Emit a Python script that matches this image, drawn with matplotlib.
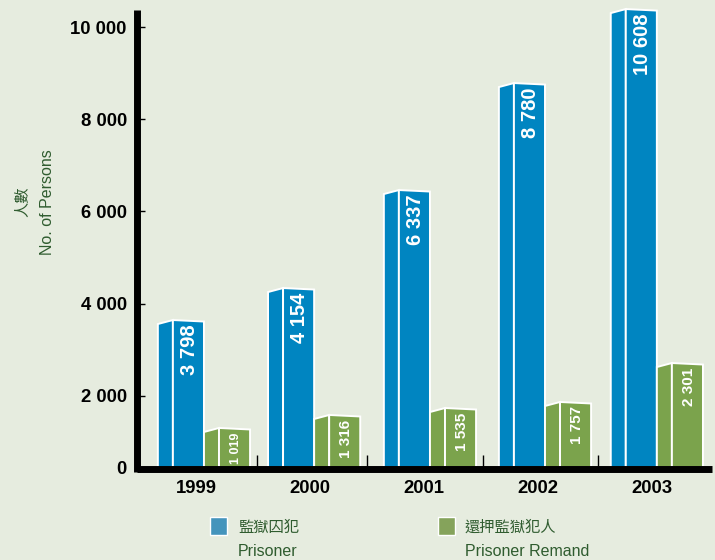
import numpy as np
import matplotlib
matplotlib.use('Agg')
import matplotlib.pyplot as plt

years = ['1999', '2000', '2001', '2002', '2003']
# printed values
prisoner_labels = ['3 798', '4 154', '6 337', '8 780', '10 608']
remand_labels = ['1 019', '1 316', '1 535', '1 757', '2 301']
# heights as read against the y axis of the picture (the drawing is not to scale)
prisoner_heights = [3644, 4338, 6464, 8785, 10390]
remand_heights = [1302, 1584, 1735, 1866, 2711]
yticks = [434, 2000, 4000, 6000, 8000, 10000]
yticklabels = ['0', '2 000', '4 000', '6 000', '8 000', '10 000']

BG = '#E6ECDF'
BLUE = '#0085C1'
GREEN = '#7BA34C'
TEXT_GREEN = '#2F5C2F'
LATIN = ['Liberation Sans', 'Noto Sans CJK TC']
CJK = ['Noto Sans CJK TC', 'Liberation Sans']

W, H = 715, 560
fig = plt.figure(figsize=(W/100, H/100), dpi=100, facecolor=BG)
ax = fig.add_axes([136.5/W, 1-468.5/H, (712-136.5)/W, (468.5-10)/H], facecolor=BG)

ymin, ymax = 423, 10370
ax.set_ylim(ymin, ymax)
ax.set_xlim(-0.597, 4.496)

group_x = np.arange(5) + np.array([0, -0.025, 0, 0.018, 0.008])
year_x = np.arange(5)*1.008 - 0.07
side_w = 0.133
front_w = 0.275
rise = 4/0.0461     # slant of the bar tops
drop = 1.5/0.0461


def draw_bar(x, h, color, label, size):
    # x is the left edge of the front face
    ax.fill([x-side_w, x-side_w, x, x], [ymin, h-rise, h, ymin],
            facecolor=color, edgecolor='white', lw=1.4, clip_on=False)
    ax.fill([x, x, x+front_w, x+front_w], [ymin, h, h-drop, ymin],
            facecolor=color, edgecolor='white', lw=1.4, clip_on=False)
    ax.text(x+front_w/2+0.012, h-4.5/0.0461, label, rotation=90, ha='center', va='top',
            color='white', fontweight='bold', fontsize=size, family=LATIN)


for i in range(5):
    draw_bar(group_x[i]-front_w, prisoner_heights[i], BLUE, prisoner_labels[i], 14.5)
    draw_bar(group_x[i]+side_w, remand_heights[i], GREEN, remand_labels[i],
             9 if i == 0 else 11)

for s in ['top', 'right']:
    ax.spines[s].set_visible(False)
ax.spines['left'].set_linewidth(5)
ax.spines['left'].set_capstyle('butt')
ax.spines['left'].set_bounds(ymin-3.5/0.0461, ymax)
ax.spines['bottom'].set_linewidth(5)
ax.spines['bottom'].set_capstyle('butt')

ax.set_yticks(yticks)
ax.set_yticklabels(yticklabels, fontweight='bold', fontsize=13.3, family=LATIN)
ax.tick_params(axis='y', direction='in', length=5.5, width=1, pad=7, color='black')

ax.set_xticks(year_x)
ax.set_xticklabels(years, fontweight='bold', fontsize=13.3, family=LATIN)
ax.tick_params(axis='x', which='major', length=0, pad=8.5)
ax.set_xticks(group_x[:4]+0.47, minor=True)
ax.tick_params(axis='x', which='minor', direction='in', length=10, width=1, color='black')


def ptext(x, y, s, **kw):
    fig.text(x/W, 1-y/H, s, **kw)


ptext(22, 202, '人數', rotation=90, ha='center', va='center', color=TEXT_GREEN,
      fontsize=11, family=CJK)
ptext(47, 202, 'No. of Persons', rotation=90, ha='center', va='center', color=TEXT_GREEN,
      fontsize=11.5, family=LATIN)

for sx, tx, col, zh, en in [(210, 238, '#4494BC', '監獄囚犯', 'Prisoner'),
                            (438, 465, '#85A35B', '還押監獄犯人', 'Prisoner Remand')]:
    fig.patches.append(plt.Rectangle((sx/W, 1-535/H), 17/W, 18/H, transform=fig.transFigure,
                                     facecolor=col, edgecolor='white', lw=1, figure=fig))
    ptext(tx, 527, zh, ha='left', va='center', color=TEXT_GREEN, fontsize=11, family=CJK)
    ptext(tx, 552, en, ha='left', va='center', color=TEXT_GREEN, fontsize=11.5, family=LATIN)

fig.savefig('out.png', dpi=100, facecolor=BG)
